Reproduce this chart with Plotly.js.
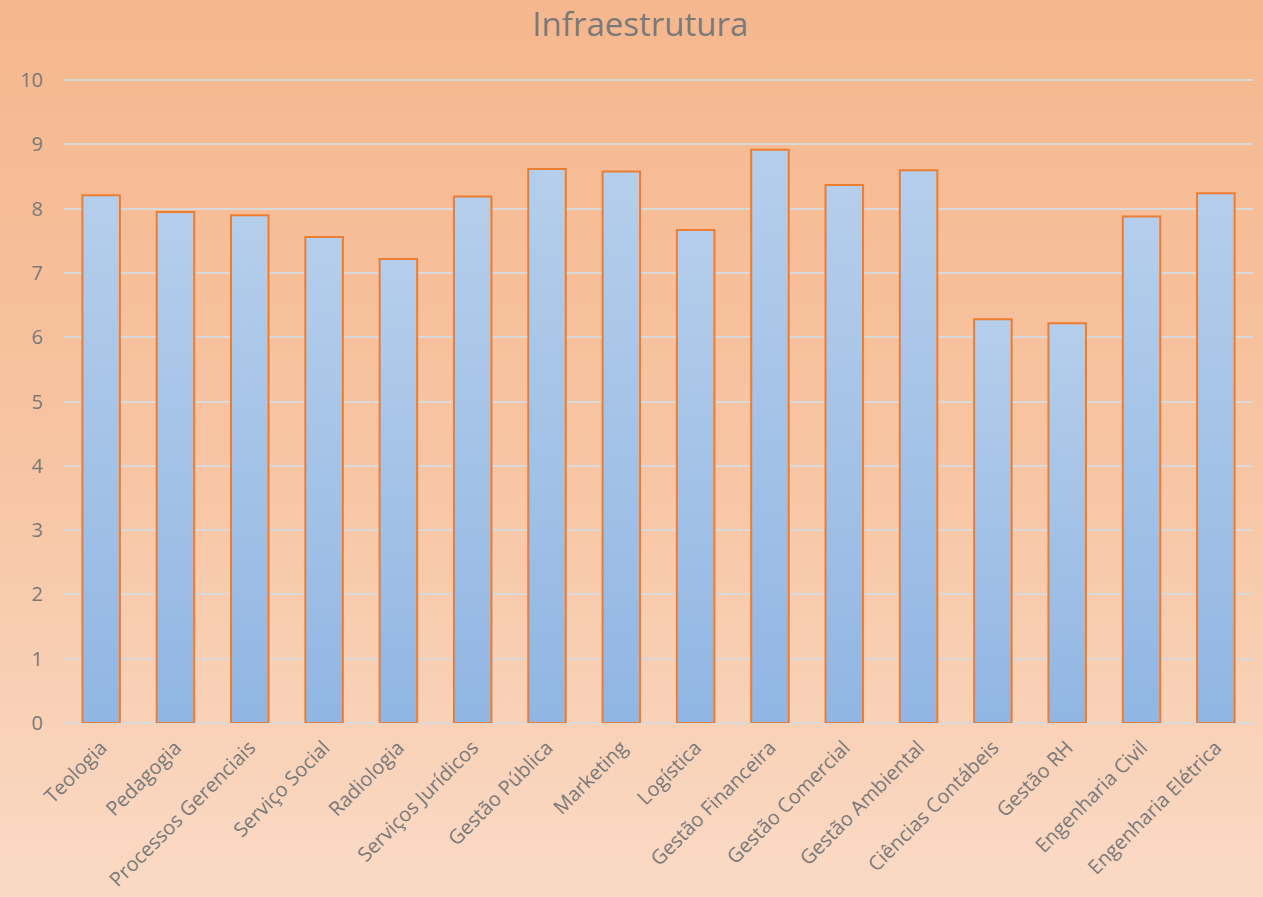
<!DOCTYPE html>
<html>
<head>
<meta charset="utf-8">
<script src="https://cdn.plot.ly/plotly-3.0.1.min.js"></script>
<style>
html,body{margin:0;padding:0;}
#chart{width:1263px;height:897px;background:linear-gradient(to bottom,#F5B78D 0%,#F7C4A2 50%,#FADAC5 100%);}
</style>
</head>
<body>
<div id="chart"></div>
<script>
const categories = ["Teologia","Pedagogia","Processos Gerenciais","Serviço Social","Radiologia","Serviços Jurídicos","Gestão Pública","Marketing","Logística","Gestão Financeira","Gestão Comercial","Gestão Ambiental","Ciências Contábeis","Gestão RH","Engenharia Civil","Engenharia Elétrica"];
const values = [8.21, 7.95, 7.90, 7.56, 7.22, 8.19, 8.62, 8.58, 7.67, 8.92, 8.37, 8.60, 6.28, 6.22, 7.88, 8.24];
const yTicks = [0,1,2,3,4,5,6,7,8,9,10];

const fontFam = "Open Sans, Noto Sans, sans-serif";
const trace = {
  type: "bar",
  x: categories,
  y: values,
  marker: {color: "#A3C2E7", line: {color: "#ED7D31", width: 2}},
  hoverinfo: "x+y"
};
const layout = {
  width: 1263, height: 897,
  paper_bgcolor: "rgba(0,0,0,0)",
  plot_bgcolor: "rgba(0,0,0,0)",
  margin: {l: 64, r: 10, t: 76.8, b: 174},
  bargap: 0.495,
  title: {text: "Infraestrutura", x: 0.507, xanchor: "center", y: 0.973, yanchor: "middle",
          font: {family: fontFam, size: 33, color: "#7A7A7A"}},
  xaxis: {tickangle: -45, tickfont: {family: fontFam, size: 20, color: "#7A7A7A"},
          showgrid: false, showline: false, ticks: "", automargin: false, ticklabelstandoff: 8},
  yaxis: {range: [0, 10.05], tickvals: yTicks, ticktext: yTicks.map(String),
          tickfont: {family: fontFam, size: 20, color: "#7A7A7A"},
          gridcolor: "#D9D9D9", gridwidth: 1.5, zeroline: true, zerolinecolor: "#D9D9D9", zerolinewidth: 1.5,
          ticks: "", ticklabelstandoff: 20, automargin: false, showline: false}
};
function applyGradient(gd){
  const svg = gd.querySelector("svg.main-svg");
  if(!svg) return;
  let defs = svg.querySelector("defs");
  if(!svg.querySelector("#barGrad")){
    const ns = "http://www.w3.org/2000/svg";
    const lg = document.createElementNS(ns, "linearGradient");
    lg.setAttribute("id", "barGrad");
    lg.setAttribute("x1","0"); lg.setAttribute("y1","0"); lg.setAttribute("x2","0"); lg.setAttribute("y2","1");
    const s1 = document.createElementNS(ns, "stop"); s1.setAttribute("offset","0"); s1.setAttribute("stop-color","#B5CEEB");
    const s2 = document.createElementNS(ns, "stop"); s2.setAttribute("offset","1"); s2.setAttribute("stop-color","#91B6E3");
    lg.appendChild(s1); lg.appendChild(s2); defs.appendChild(lg);
  }
  gd.querySelectorAll(".barlayer .point path").forEach(p => { p.style.fill = "url(#barGrad)"; });
}
const gd = document.getElementById("chart");
Plotly.newPlot(gd, [trace], layout, {displayModeBar: false}).then(() => {
  applyGradient(gd);
  gd.on("plotly_afterplot", () => applyGradient(gd));
});
</script>
</body>
</html>
